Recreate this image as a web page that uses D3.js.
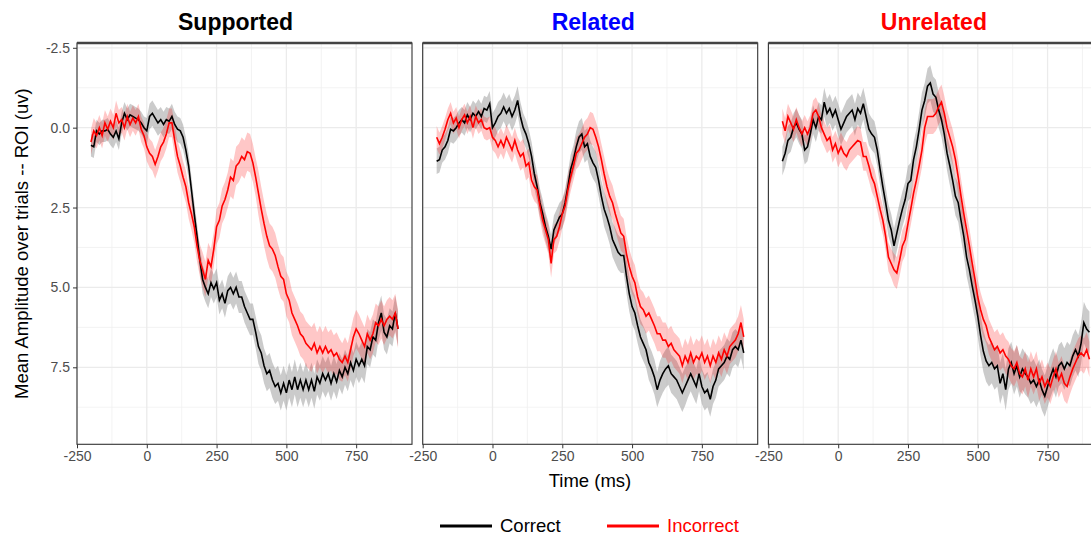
<!DOCTYPE html>
<meta charset="utf-8">
<style>
    body { margin: 0; background: #fff; }
    text { font-family: "Liberation Sans", Arial, Helvetica, sans-serif; }
</style>
<script src="https://d3js.org/d3.v7.min.js"></script>

<svg id="chart" width="1091" height="535"></svg>

<script>
    // sample times (ms), one value every 10 ms
    var times = d3.range(-200, 901, 10);

    // mean amplitude (uv)
    var supCorrect = [0.55,0.6,0.1,0.2,0.1,0.1,0.05,0.2,0.3,0.1,
        0.35,-0.15,-0.45,-0.25,-0.4,-0.35,-0.3,-0.25,-0.15,0,
        0.1,-0.35,-0.45,-0.3,-0.15,-0.25,-0.1,-0.25,-0.2,-0.35,
        -0.1,0.05,0.1,0.3,0.7,1.2,1.95,2.7,3.4,4.15,
        4.75,5.0,5.2,4.85,5.05,4.85,5.4,5.2,5.5,5.1,
        5.0,5.2,5.0,5.3,5.3,5.6,5.8,6.0,6.0,6.4,
        6.85,7.05,7.45,7.7,7.6,7.9,8.1,8.0,8.3,8.0,
        8.3,7.9,8.2,7.8,8.2,7.9,8.2,7.9,8.2,7.9,
        8.25,7.8,8.0,7.7,7.9,7.7,8.0,7.7,7.95,7.6,
        7.8,7.5,7.7,7.35,7.6,7.25,7.45,7.25,7.45,6.85,
        6.95,6.55,6.65,6.1,5.8,6.4,6.55,6.2,6.3,5.8,6.3];
    var supIncorrect = [0.45,0.1,0.25,0,0.25,-0.15,0.05,-0.2,0,-0.45,
        -0.15,-0.25,0,-0.35,-0.1,-0.3,-0.15,-0.35,0.05,0.25,
        0.6,0.8,0.9,1.15,0.9,0.6,0.45,0.2,-0.15,-0.15,
        0.4,0.9,1.2,1.55,1.85,2.35,2.7,3.1,3.7,4.15,
        4.45,4.75,4.15,4.35,3.8,3.1,2.9,2.45,2.25,1.95,
        1.55,1.65,1.2,1.1,0.9,1.0,0.75,0.8,1.1,1.55,
        2.05,2.55,3.0,3.4,3.7,3.8,4.0,4.35,4.65,4.75,
        5.2,5.4,5.8,6.0,6.2,6.45,6.55,6.75,6.85,6.95,
        6.75,7.05,6.85,7.05,6.85,7.05,6.95,7.15,7.05,7.25,
        7.35,7.15,7.35,6.95,6.55,6.3,6.45,6.65,6.85,6.45,
        6.65,6.45,6.1,6.2,6.0,6.2,6.0,5.9,6.0,5.8,6.3];
    var relCorrect = [1.05,1.0,0.7,0.6,0.4,0.05,0.1,0,-0.15,-0.25,
        -0.15,-0.4,-0.25,-0.45,-0.35,-0.5,-0.35,-0.6,-0.55,-0.75,
        0,-0.15,-0.35,-0.45,-0.65,-0.45,-0.6,-0.35,-0.55,-0.85,
        -0.35,0,0.2,0.5,0.9,1.45,1.85,2.35,2.7,3.1,
        3.4,3.8,3.2,3.0,2.8,2.7,2.35,1.85,1.3,1.0,
        0.6,0.3,0.2,0.6,0.5,0.9,1.1,1.25,1.65,2.15,
        2.55,2.8,3.1,3.5,3.7,3.9,4.0,4.0,4.65,5.2,
        5.6,5.8,6.2,6.55,6.75,6.95,7.35,7.55,7.8,8.2,
        7.9,7.7,7.55,7.45,7.7,7.8,7.9,8.1,8.3,8.1,
        7.9,7.7,7.9,8.1,7.7,8.1,8.3,8.2,8.5,8.1,
        7.9,7.55,7.45,7.35,7.15,7.25,6.95,6.85,6.95,6.65,7.05];
    var relIncorrect = [0.3,0.5,0.3,0.05,-0.25,-0.45,-0.15,-0.3,0,-0.25,
        -0.4,-0.15,-0.35,0,-0.35,-0.15,-0.25,0,0.05,0,
        0.3,0.4,0.6,0.4,0.6,0.3,0.5,0.7,0.4,0.7,
        0.9,0.8,1.2,1.1,1.65,1.85,1.95,2.45,2.9,3.2,
        3.5,4.25,3.5,3.4,3.1,2.7,2.45,1.95,1.55,1.2,
        0.8,0.7,0.5,0.3,0.2,0,0.05,0.3,0.6,1.0,
        1.45,1.85,2.15,2.35,2.7,3.0,3.3,3.4,3.95,4.35,
        4.65,4.85,5.3,5.6,5.7,5.9,5.8,6.0,6.2,6.45,
        6.45,6.65,6.65,6.85,6.75,6.95,7.05,7.15,7.45,7.15,
        7.35,7.05,7.35,7.15,7.25,7.05,7.35,7.15,7.45,7.15,
        7.35,7.05,7.25,6.95,7.15,6.85,6.75,6.65,6.45,6.1,6.55];
    var unrCorrect = [1.05,0.8,0.4,0.3,0,-0.15,0.05,0.2,0.7,0.6,
        0.2,-0.25,0,-0.35,-0.25,-0.8,-0.45,-0.6,-0.35,-0.55,
        -0.25,0.05,-0.15,-0.35,-0.45,-0.55,-0.25,-0.6,-0.45,-0.75,
        -0.35,0.05,0.2,0.3,0.7,1.3,1.85,2.35,2.9,3.2,
        3.7,3.3,2.9,2.55,2.25,1.75,1.65,1.0,0.6,0.05,
        -0.55,-0.85,-1.3,-1.4,-1.05,-0.95,-0.55,-0.25,0.2,0.8,
        1.2,1.65,2.15,2.35,2.9,3.4,4.05,4.45,4.95,5.4,
        5.9,6.5,7.0,7.3,7.45,7.35,7.55,7.45,8.0,7.7,
        8.2,7.55,7.35,7.7,7.45,7.8,7.55,7.7,7.8,8.0,
        7.9,8.1,7.9,8.2,8.4,8.1,7.8,7.55,7.8,7.45,
        7.35,7.55,7.35,7.45,7.15,6.95,7.15,6.75,6.1,6.3,6.4];
    var unrIncorrect = [-0.2,0.1,-0.35,-0.15,0.05,-0.25,0,0.2,0,0.2,
        0,-0.45,-0.55,-0.35,0,0.2,0.4,0.3,0.7,0.5,
        0.8,0.6,0.8,0.9,0.7,0.6,0.5,0.4,0.45,0.9,
        0.9,1.2,1.55,1.75,2.15,2.55,2.9,3.4,4.05,4.25,
        4.45,4.55,4.15,3.7,3.5,3.0,2.55,2.05,1.65,1.2,
        0.7,0,-0.35,-0.35,-0.35,-0.45,-0.65,-0.8,-0.45,0,
        0.3,0.6,1.0,1.55,2.15,2.7,3.2,3.7,4.25,4.75,
        5.3,5.7,6.0,6.2,6.55,6.75,6.95,6.85,7.05,6.95,
        7.15,7.25,7.45,7.55,7.35,7.7,7.8,7.55,7.9,7.55,
        7.8,7.55,8.0,7.8,8.1,7.9,8.1,7.8,7.55,7.9,
        7.7,8.0,8.1,7.8,7.55,7.35,7.15,7.05,7.15,6.95,7.25];

    // standard error per 100 ms bin (-200, -100, 0, ... 900)
    var supCorrectSe   = [0.35,0.35,0.4,0.4,0.45,0.5,0.55,0.55,0.55,0.55,0.55,0.55];
    var supIncorrectSe = [0.4,0.4,0.45,0.5,0.55,0.6,0.7,0.7,0.65,0.6,0.6,0.6];
    var relCorrectSe   = [0.4,0.4,0.45,0.45,0.45,0.5,0.55,0.55,0.6,0.55,0.55,0.55];
    var relIncorrectSe = [0.35,0.35,0.4,0.45,0.45,0.5,0.55,0.55,0.55,0.55,0.55,0.55];
    var unrCorrectSe   = [0.45,0.45,0.5,0.5,0.55,0.55,0.6,0.65,0.65,0.65,0.65,0.65];
    var unrIncorrectSe = [0.4,0.4,0.45,0.45,0.5,0.55,0.55,0.55,0.55,0.55,0.55,0.55];

    var panels = ["Supported", "Related", "Unrelated"];
    var panelColors = ["#000000", "#0000ff", "#ff0000"];
    var conditions = ["Correct", "Incorrect"];
    var condColors = ["#000000", "#ff0000"];
    var xTicks = [-250, 0, 250, 500, 750];
    var xMinor = [-125, 125, 375, 625, 875];
    var yTicks = [-2.5, 0, 2.5, 5, 7.5];
    var yTickLabels = ["-2.5", "0.0", "2.5", "5.0", "7.5"];
    var yMinor = [-1.25, 1.25, 3.75, 6.25, 8.75];

    var means = [[supCorrect, supIncorrect], [relCorrect, relIncorrect], [unrCorrect, unrIncorrect]];
    var ses = [[supCorrectSe, supIncorrectSe], [relCorrectSe, relIncorrectSe], [unrCorrectSe, unrIncorrectSe]];

    var svg = d3.select("#chart");
    var panelW = 335, panelStep = 345.7, firstLeft = 77;
    var plotTop = 43, plotBottom = 444.3;
    var titleShift = [-9, 3, -2];
    var fontFam = "\"Liberation Sans\", Arial, sans-serif";

    var y = d3.scaleLinear().domain([-2.65, 9.91]).range([plotTop, plotBottom]);

    panels.forEach(function(name, p) {
        var left = firstLeft + p * panelStep;
        var x = d3.scaleLinear().domain([-250, 950]).range([left, left + panelW]);
        var g = svg.append("g");

        svg.append("clipPath").attr("id", "clip" + p)
            .append("rect").attr("x", left).attr("y", plotTop)
            .attr("width", panelW).attr("height", plotBottom - plotTop);

        // grid
        g.selectAll(".ym").data(yMinor).enter().append("line")
            .attr("x1", left).attr("x2", left + panelW)
            .attr("y1", function(d) { return y(d); }).attr("y2", function(d) { return y(d); })
            .style("stroke", "#f0f0f0").style("stroke-width", 0.8);
        g.selectAll(".xm").data(xMinor).enter().append("line")
            .attr("y1", plotTop).attr("y2", plotBottom)
            .attr("x1", function(d) { return x(d); }).attr("x2", function(d) { return x(d); })
            .style("stroke", "#f0f0f0").style("stroke-width", 0.8);
        g.selectAll(".yM").data(yTicks).enter().append("line")
            .attr("x1", left).attr("x2", left + panelW)
            .attr("y1", function(d) { return y(d); }).attr("y2", function(d) { return y(d); })
            .style("stroke", "#ebebeb").style("stroke-width", 1.3);
        g.selectAll(".xM").data(xTicks).enter().append("line")
            .attr("y1", plotTop).attr("y2", plotBottom)
            .attr("x1", function(d) { return x(d); }).attr("x2", function(d) { return x(d); })
            .style("stroke", "#ebebeb").style("stroke-width", 1.3);

        var plot = g.append("g").attr("clip-path", "url(#clip" + p + ")");

        // ribbons
        conditions.forEach(function(c, k) {
            var m = means[p][k], s = ses[p][k];
            var pts = times.map(function(t, i) {
                return { t: t, m: m[i], se: s[Math.floor((t + 200) / 100)] };
            });
            plot.append("path").datum(pts)
                .attr("d", d3.area()
                    .x(function(d) { return x(d.t); })
                    .y0(function(d) { return y(d.m - d.se); })
                    .y1(function(d) { return y(d.m + d.se); }))
                .style("fill", k === 0 ? "#8c8c8c" : "#ff0000")
                .style("fill-opacity", k === 0 ? 0.45 : 0.22)
                .style("stroke", "none");
        });

        // mean lines
        conditions.forEach(function(c, k) {
            var m = means[p][k];
            plot.append("path").datum(times.map(function(t, i) { return [t, m[i]]; }))
                .attr("d", d3.line()
                    .x(function(d) { return x(d[0]); })
                    .y(function(d) { return y(d[1]); }))
                .style("fill", "none")
                .style("stroke", condColors[k])
                .style("stroke-width", 1.6);
        });

        // border
        g.append("rect").attr("x", left).attr("y", plotTop)
            .attr("width", panelW).attr("height", plotBottom - plotTop)
            .style("fill", "none").style("stroke", "#333").style("stroke-width", 1.1);
        g.append("line").attr("x1", left).attr("x2", left + panelW)
            .attr("y1", plotTop).attr("y2", plotTop)
            .style("stroke", "#444").style("stroke-width", 2.4);

        // x axis
        var xa = g.append("g").attr("transform", "translate(0," + plotBottom + ")")
            .call(d3.axisBottom(x).tickValues(xTicks).tickSize(4).tickPadding(3)
                .tickFormat(function(d) { return String(d); }));
        xa.select(".domain").remove();
        xa.selectAll("line").style("stroke", "#333");
        xa.selectAll("text").style("fill", "#4d4d4d").style("font-size", "14px")
            .style("font-family", fontFam);

        if (p === 0) {
            var ya = g.append("g").attr("transform", "translate(" + left + ",0)")
                .call(d3.axisLeft(y).tickValues(yTicks).tickSize(4).tickPadding(3)
                    .tickFormat(function(d, i) { return yTickLabels[i]; }));
            ya.select(".domain").remove();
            ya.selectAll("line").style("stroke", "#333");
            ya.selectAll("text").style("fill", "#4d4d4d").style("font-size", "14px")
                .style("font-family", fontFam);
        }

        // facet title
        svg.append("text")
            .attr("x", left + panelW / 2 + titleShift[p]).attr("y", 30)
            .attr("text-anchor", "middle")
            .style("font-size", "23px").style("font-weight", "bold")
            .style("fill", panelColors[p])
            .text(name);
    });

    // axis titles
    svg.append("text")
        .attr("transform", "translate(28," + ((plotTop + plotBottom) / 2) + ") rotate(-90)")
        .attr("text-anchor", "middle")
        .style("font-size", "18.5px")
        .text("Mean Amplitude over trials -- ROI (uv)");

    svg.append("text")
        .attr("x", 590).attr("y", 487)
        .attr("text-anchor", "middle")
        .style("font-size", "18.5px")
        .text("Time (ms)");

    // legend
    var legendX = [440, 607];
    conditions.forEach(function(c, k) {
        svg.append("line")
            .attr("x1", legendX[k]).attr("x2", legendX[k] + 52)
            .attr("y1", 526).attr("y2", 526)
            .style("stroke", condColors[k]).style("stroke-width", 2.8);
        svg.append("text")
            .attr("x", legendX[k] + 60).attr("y", 532)
            .style("font-size", "18.5px")
            .style("fill", condColors[k])
            .text(c);
    });
</script>
